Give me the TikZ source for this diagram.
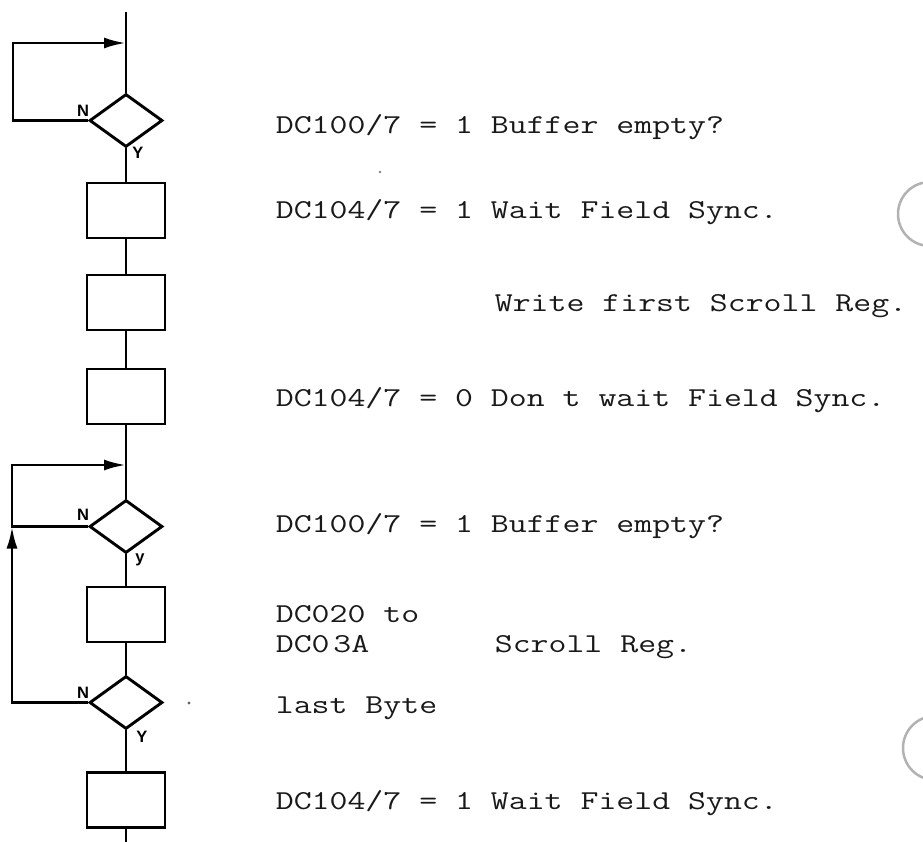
\documentclass[tikz,border=0pt]{standalone}
\usepackage{fontspec}
\setsansfont{Liberation Sans}
\usetikzlibrary{shapes.geometric,arrows.meta}
\begin{document}
\begin{tikzpicture}[x=1pt,y=-1pt, line width=2.9pt,
  decision/.style={draw, diamond, minimum width=73pt, minimum height=53pt, inner sep=0pt},
  procbox/.style={draw, rectangle, minimum width=78pt, minimum height=55pt, inner sep=0pt},
  txt/.style={anchor=base west, inner sep=0pt, xscale=1.275, text=black!90, font=\ttfamily\fontsize{27.3}{33}\selectfont},
  lbl/.style={inner sep=0pt, font=\sffamily\bfseries\fontsize{16.5}{16.5}\selectfont},
  arr/.style={-{Latex[length=22pt,width=11pt]}},
  hole/.style={draw=black!30, line width=2.5pt}]
\useasboundingbox (0,0) rectangle (923,841);
% binder holes
\draw[hole] (930,214) circle[radius=32pt];
\draw[hole] (935,748) circle[radius=32pt];
\fill[black!60] (189,703) circle[radius=1.6pt];
\fill[black!50] (380,172) circle[radius=1.3pt];
% flow chart
\coordinate (top) at (126,12);
\coordinate (j1) at (126,43);
\node[decision] (d1) at (126,120.5) {};
\node[procbox] (b1) at (126,210.5) {};
\node[procbox] (b2) at (126,302.5) {};
\node[procbox] (b3) at (126,396.5) {};
\coordinate (j2) at (126,465);
\node[decision] (d2) at (126,526.5) {};
\node[procbox] (b4) at (126,614.5) {};
\node[decision] (d3) at (126,702.5) {};
\node[procbox] (b5) at (126,800) {};
\coordinate (bot) at (126,843);
\coordinate (l1) at (13,43);
\coordinate (l2) at (12,465);
\coordinate (l3) at (12,526.5);
\draw (top) -- (d1.north);
\draw (d1.south) -- (b1.north);
\draw (b1.south) -- (b2.north);
\draw (b2.south) -- (b3.north);
\draw (b3.south) -- (d2.north);
\draw (d2.south) -- (b4.north);
\draw (b4.south) -- (d3.north);
\draw (d3.south) -- (b5.north);
\draw (b5.south) -- (bot);
\draw[arr] (d1.west) -| (l1) -- (j1);
\draw[arr] (d2.west) -| (l2) -- (j2);
\draw[arr] (d3.west) -| (l3);
% labels
\node[lbl] (n1) at (83,111) {N};
\node[lbl] (y1) at (138,153) {Y};
\node[lbl] (n2) at (83,515) {N};
\node[lbl] (y2) at (140,560) {y};
\node[lbl] (n3) at (83,693) {N};
\node[lbl] (y3) at (142,737) {Y};
% texts
\node[txt] (t1) at (274,133) {DC100/7 = 1 Buffer empty?};
\node[txt] (t2) at (274,218) {DC104/7 = 1 Wait Field Sync.};
\node[txt] (t3) at (493,311) {Write first Scroll Reg.};
\node[txt] (t4) at (274,406) {DC104/7 = 0 Don t wait Field Sync.};
\node[txt] (t5) at (274,532) {DC100/7 = 1 Buffer empty?};
\node[txt] (t6) at (274,622) {DC020 to};
\node[txt] (t7) at (274,652) {DC0\kern3pt 3A};
\node[txt] (t8) at (493,652) {Scroll Reg.};
\node[txt] (t9) at (274,713) {last Byte};
\node[txt] (t10) at (274,809) {DC104/7 = 1 Wait Field Sync.};
\end{tikzpicture}
\end{document}
